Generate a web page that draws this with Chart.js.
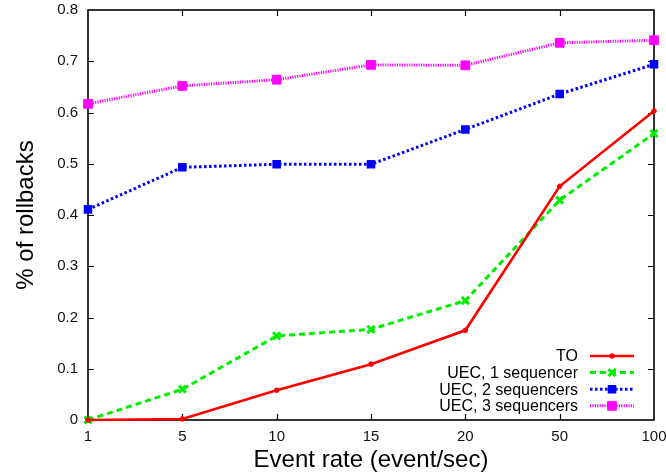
<!DOCTYPE html>
<html><head><meta charset="utf-8">
<script src="https://cdn.jsdelivr.net/npm/chart.js@4/dist/chart.umd.min.js"></script>
<style>html,body{margin:0;padding:0;background:#fff;}canvas{display:block;}</style>
</head><body>
<canvas id="c" width="666" height="475"></canvas>
<script>
const categories = ['1', '5', '10', '15', '20', '50', '100'];
const seriesTO   = [0, 0.002, 0.058, 0.109, 0.175, 0.456, 0.603];
const seriesUEC1 = [0, 0.060, 0.164, 0.177, 0.233, 0.429, 0.559];
const seriesUEC2 = [0.411, 0.493, 0.499, 0.499, 0.567, 0.636, 0.694];
const seriesUEC3 = [0.617, 0.652, 0.664, 0.693, 0.692, 0.736, 0.741];
const seriesNames = ['TO', 'UEC, 1 sequencer', 'UEC, 2 sequencers', 'UEC, 3 sequencers'];
const yTicks = [0, 0.1, 0.2, 0.3, 0.4, 0.5, 0.6, 0.7, 0.8];

const FONT = '"Liberation Sans", Arial, Helvetica, sans-serif';

const frameTicks = {
  id: 'frameTicks',
  beforeDatasetsDraw(chart) {
    const {ctx, chartArea: a, scales: {x, y}} = chart;
    ctx.save();
    ctx.strokeStyle = '#000';
    ctx.lineWidth = 1.2;
    const L = 6;
    ctx.beginPath();
    y.ticks.forEach((t, i) => {
      const py = Math.round(y.getPixelForTick(i)) + 0.5;
      if (i === 0 || i === y.ticks.length - 1) return;
      ctx.moveTo(a.left, py); ctx.lineTo(a.left + L, py);
      ctx.moveTo(a.right, py); ctx.lineTo(a.right - L, py);
    });
    x.ticks.forEach((t, i) => {
      const px = Math.round(x.getPixelForTick(i)) + 0.5;
      if (i === 0 || i === x.ticks.length - 1) return;
      ctx.moveTo(px, a.bottom); ctx.lineTo(px, a.bottom - L);
      ctx.moveTo(px, a.top); ctx.lineTo(px, a.top + L);
    });
    ctx.stroke();
    ctx.lineWidth = 1.6;
    ctx.strokeRect(a.left, a.top, a.right - a.left, a.bottom - a.top);
    ctx.restore();
  }
};

const innerLegend = {
  id: 'innerLegend',
  afterDraw(chart) {
    const {ctx} = chart;
    const textRight = 578, x0 = 590, x1 = 634, rowH = 16.6;
    const yStart = 356;
    ctx.save();
    ctx.font = '16px ' + FONT;
    ctx.textAlign = 'right';
    ctx.textBaseline = 'middle';
    chart.data.datasets.forEach((ds, i) => {
      const yy = yStart + i * rowH;
      ctx.fillStyle = '#000';
      ctx.fillText(ds.label, textRight, yy + 1);
      ctx.strokeStyle = ds.borderColor;
      ctx.lineWidth = ds.borderWidth;
      ctx.setLineDash(ds.borderDash || []);
      ctx.beginPath();
      ctx.moveTo(x0, yy); ctx.lineTo(x1, yy);
      ctx.stroke();
      ctx.setLineDash([]);
      ctx.fillStyle = ds.pointBackgroundColor;
      ctx.strokeStyle = ds.pointBorderColor;
      ctx.lineWidth = ds.pointBorderWidth;
      Chart.helpers.drawPoint(ctx, {pointStyle: ds.pointStyle, radius: ds.pointRadius, rotation: 0, borderWidth: ds.pointBorderWidth}, (x0 + x1) / 2, yy);
    });
    ctx.restore();
  }
};

new Chart(document.getElementById('c'), {
  type: 'line',
  data: {
    labels: categories,
    datasets: [
      { label: seriesNames[0], data: seriesTO, borderColor: '#ff0000', borderWidth: 2.6,
        pointStyle: 'circle', pointRadius: 2.3, pointBackgroundColor: '#ff0000', pointBorderColor: '#ff0000', pointBorderWidth: 1 },
      { label: seriesNames[1], data: seriesUEC1, borderColor: '#00ee00', borderWidth: 3, borderDash: [6, 4],
        pointStyle: 'crossRot', pointRadius: 5, pointBackgroundColor: '#00ee00', pointBorderColor: '#00ee00', pointBorderWidth: 3 },
      { label: seriesNames[2], data: seriesUEC2, borderColor: '#0000ff', borderWidth: 3, borderDash: [2.5, 2.5],
        pointStyle: 'rect', pointRadius: 5, pointBackgroundColor: '#0000ff', pointBorderColor: '#0000ff', pointBorderWidth: 1.5 },
      { label: seriesNames[3], data: seriesUEC3, borderColor: '#ff00ff', borderWidth: 3, borderDash: [1.2, 1.2],
        pointStyle: 'rect', pointRadius: 6.2, pointBackgroundColor: '#ff00ff', pointBorderColor: '#ff00ff', pointBorderWidth: 1 }
    ]
  },
  options: {
    responsive: false,
    animation: false,
    events: [],
    layout: { padding: { left: 0, right: 12, top: 10, bottom: 0 } },
    elements: { line: { tension: 0, fill: false }, point: { hoverRadius: 0 } },
    datasets: { line: { clip: false } },
    plugins: { legend: { display: false }, tooltip: { enabled: false } },
    scales: {
      x: {
        type: 'category',
        offset: false,
        grid: { display: false, drawTicks: false },
        border: { display: false },
        ticks: { color: '#111', font: { family: FONT, size: 15 }, padding: 8, maxRotation: 0, autoSkip: false },
        title: { display: true, text: 'Event rate (event/sec)', color: '#000', font: { family: FONT, size: 24 }, padding: { top: 0, bottom: 0 } },
        afterFit(s) { s.height = 55; s.paddingLeft = 0; s.paddingRight = 0; }
      },
      y: {
        min: 0, max: 0.8,
        afterBuildTicks(s) { s.ticks = yTicks.map(v => ({ value: v })); },
        grid: { display: false, drawTicks: false },
        border: { display: false },
        ticks: { color: '#111', font: { family: FONT, size: 15 }, padding: 10,
          callback: v => (v === 0 ? '0' : v.toFixed(1)) },
        title: { display: true, text: '% of rollbacks', color: '#000', font: { family: FONT, size: 24 }, padding: { top: 12, bottom: 0 } },
        afterFit(s) { s.width = 88; s.paddingTop = 0; s.paddingBottom = 0; }
      }
    }
  },
  plugins: [frameTicks, innerLegend]
});
</script>
</body></html>
